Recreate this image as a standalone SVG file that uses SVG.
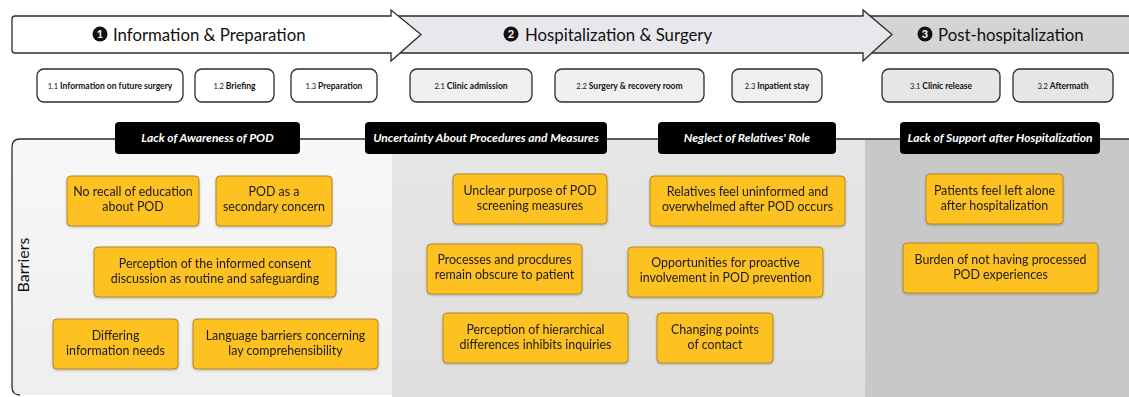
<svg xmlns="http://www.w3.org/2000/svg" width="1129" height="397" viewBox="0 0 1129 397">
<defs>
<linearGradient id="gL" x1="0" y1="0" x2="0" y2="1"><stop offset="0" stop-color="#f8f8f8"/><stop offset="1" stop-color="#eeeeee"/></linearGradient>
<linearGradient id="gM" x1="0" y1="0" x2="0" y2="1"><stop offset="0" stop-color="#e6e6e6"/><stop offset="1" stop-color="#dfdfdf"/></linearGradient>
<filter id="sh" x="-10%" y="-10%" width="120%" height="130%"><feDropShadow dx="0" dy="1" stdDeviation="0.8" flood-color="#000" flood-opacity="0.25"/></filter>
</defs>
<style>
.arrow{stroke:#2b2b2b;stroke-width:1.3}
.ttl{font-family:Lato,"Liberation Sans",sans-serif;font-size:16.8px;fill:#111}
.num{font-family:Lato,"Liberation Sans",sans-serif;font-size:11px;font-weight:bold;fill:#fff}
.sub{stroke:#2b2b2b;stroke-width:1.3}
.st{font-family:Lato,"Liberation Sans",sans-serif;font-size:8.5px;font-weight:bold;fill:#111}
.sn{font-weight:normal;font-size:7.5px}
.cat{fill:#000}
.ct{font-family:Lato,"Liberation Sans",sans-serif;font-size:12px;font-weight:bold;font-style:italic;fill:#fff}
.yb{fill:#fdc124;stroke:#b08a2a;stroke-width:1}
.yt{font-family:Lato,"Liberation Sans",sans-serif;font-size:12.4px;fill:#1a1a1a}
.bar{font-family:Lato,"Liberation Sans",sans-serif;font-size:16px;fill:#111}
</style>

<!-- panel backgrounds -->
<g id="panel">
<path d="M392 139 H865 V397 H392 Z" fill="url(#gM)"/>
<path d="M865 139 H1129 V397 H865 Z" fill="#c8c8c8"/>
<path d="M392 139 H20 Q12 139 12 147 V387 Q12 395 20 395 H392 Z" fill="url(#gL)"/>
<path d="M1129 139 H20 Q12 139 12 147 V387 Q12 395 20 395" fill="none" stroke="#2b2b2b" stroke-width="1.3"/>
<text class="bar" transform="translate(29 265) rotate(-90)" text-anchor="middle">Barriers</text>
</g>

<!-- phase arrows -->
<g id="phase3">
<path class="arrow" d="M865 16 H1135 V53 H865 Z" fill="#d4d4d4"/>
<circle cx="925" cy="34" r="7.5" fill="#111"/><text class="num" x="925" y="38" text-anchor="middle">3</text>
<text class="ttl" x="938" y="40.5">Post-hospitalization</text>
</g>
<g id="phase2">
<path class="arrow" d="M392 16 H863 V10 L892 34.5 L863 61 V53 H392 Z" fill="#e8e8ec"/>
<circle cx="511" cy="34" r="7.5" fill="#111"/><text class="num" x="511" y="38" text-anchor="middle">2</text>
<text class="ttl" x="525" y="40.5">Hospitalization &amp; Surgery</text>
</g>
<g id="phase1">
<path class="arrow" d="M15 16 H391 V10 L421 34.5 L391 61 V53 H15 Q12 53 12 50 V19 Q12 16 15 16 Z" fill="#ffffff"/>
<circle cx="100" cy="34" r="7.5" fill="#111"/><text class="num" x="100" y="38" text-anchor="middle">1</text>
<text class="ttl" x="113" y="40.5">Information &amp; Preparation</text>
</g>

<!-- substeps -->
<g id="s11"><rect class="sub" x="37" y="69" width="146" height="33" rx="7" fill="#fff"/><text class="st" x="110" y="89" text-anchor="middle"><tspan class="sn">1.1 </tspan>Information on future surgery</text></g>
<g id="s12"><rect class="sub" x="195" y="69" width="79" height="33" rx="7" fill="#fff"/><text class="st" x="234.5" y="89" text-anchor="middle"><tspan class="sn">1.2 </tspan>Briefing</text></g>
<g id="s13"><rect class="sub" x="291" y="69" width="86" height="33" rx="7" fill="#fff"/><text class="st" x="334" y="89" text-anchor="middle"><tspan class="sn">1.3 </tspan>Preparation</text></g>
<g id="s21"><rect class="sub" x="410" y="69" width="122" height="33" rx="7" fill="#f0f0f0"/><text class="st" x="471" y="89" text-anchor="middle"><tspan class="sn">2.1 </tspan>Clinic admission</text></g>
<g id="s22"><rect class="sub" x="555" y="69" width="149" height="33" rx="7" fill="#f0f0f0"/><text class="st" x="629.5" y="89" text-anchor="middle"><tspan class="sn">2.2 </tspan>Surgery &amp; recovery room</text></g>
<g id="s23"><rect class="sub" x="732" y="69" width="90" height="33" rx="7" fill="#f0f0f0"/><text class="st" x="777" y="89" text-anchor="middle"><tspan class="sn">2.3 </tspan>Inpatient stay</text></g>
<g id="s31"><rect class="sub" x="882" y="69" width="118" height="33" rx="7" fill="#e6e6e6"/><text class="st" x="941" y="89" text-anchor="middle"><tspan class="sn">3.1 </tspan>Clinic release</text></g>
<g id="s32"><rect class="sub" x="1013" y="69" width="100" height="33" rx="7" fill="#e6e6e6"/><text class="st" x="1063" y="89" text-anchor="middle"><tspan class="sn">3.2 </tspan>Aftermath</text></g>

<!-- categories -->
<g id="c1"><rect class="cat" x="115" y="122" width="185" height="32" rx="4"/><text class="ct" x="207.5" y="142" text-anchor="middle">Lack of Awareness of POD</text></g>
<g id="c2"><rect class="cat" x="365" y="122" width="242" height="32" rx="4"/><text class="ct" x="486" y="142" text-anchor="middle">Uncertainty About Procedures and Measures</text></g>
<g id="c3"><rect class="cat" x="658" y="122" width="178" height="32" rx="4"/><text class="ct" x="747" y="142" text-anchor="middle">Neglect of Relatives' Role</text></g>
<g id="c4"><rect class="cat" x="900" y="122" width="200" height="32" rx="4"/><text class="ct" x="1000" y="142" text-anchor="middle">Lack of Support after Hospitalization</text></g>

<!-- barriers -->
<g id="b1" filter="url(#sh)"><rect class="yb" x="67" y="176" width="132" height="50" rx="4"/><text class="yt" text-anchor="middle"><tspan x="133" y="196">No recall of education</tspan><tspan x="133" y="211">about POD</tspan></text></g>
<g id="b2" filter="url(#sh)"><rect class="yb" x="216" y="176" width="116" height="50" rx="4"/><text class="yt" text-anchor="middle"><tspan x="274" y="196">POD as a</tspan><tspan x="274" y="211">secondary concern</tspan></text></g>
<g id="b3" filter="url(#sh)"><rect class="yb" x="94" y="247" width="242" height="50" rx="4"/><text class="yt" text-anchor="middle"><tspan x="215" y="268">Perception of the informed consent</tspan><tspan x="215" y="283">discussion as routine and safeguarding</tspan></text></g>
<g id="b4" filter="url(#sh)"><rect class="yb" x="53" y="319" width="125" height="50" rx="4"/><text class="yt" text-anchor="middle"><tspan x="115.5" y="340">Differing</tspan><tspan x="115.5" y="355">information needs</tspan></text></g>
<g id="b5" filter="url(#sh)"><rect class="yb" x="193" y="319" width="185" height="50" rx="4"/><text class="yt" text-anchor="middle"><tspan x="285.5" y="340">Language barriers concerning</tspan><tspan x="285.5" y="355">lay comprehensibility</tspan></text></g>
<g id="b6" filter="url(#sh)"><rect class="yb" x="453" y="174" width="154" height="50" rx="4"/><text class="yt" text-anchor="middle"><tspan x="530" y="195">Unclear purpose of POD</tspan><tspan x="530" y="210">screening measures</tspan></text></g>
<g id="b7" filter="url(#sh)"><rect class="yb" x="650" y="176" width="195" height="50" rx="4"/><text class="yt" text-anchor="middle"><tspan x="747.5" y="196">Relatives feel uninformed and</tspan><tspan x="747.5" y="211">overwhelmed after POD occurs</tspan></text></g>
<g id="b8" filter="url(#sh)"><rect class="yb" x="427" y="244" width="155" height="50" rx="4"/><text class="yt" text-anchor="middle"><tspan x="504.5" y="264">Processes and procdures</tspan><tspan x="504.5" y="279">remain obscure to patient</tspan></text></g>
<g id="b9" filter="url(#sh)"><rect class="yb" x="628" y="247" width="195" height="50" rx="4"/><text class="yt" text-anchor="middle"><tspan x="725.5" y="267">Opportunities for proactive</tspan><tspan x="725.5" y="282">involvement in POD prevention</tspan></text></g>
<g id="b10" filter="url(#sh)"><rect class="yb" x="443" y="313" width="185" height="50" rx="4"/><text class="yt" text-anchor="middle"><tspan x="535.5" y="334">Perception of hierarchical</tspan><tspan x="535.5" y="349">differences inhibits inquiries</tspan></text></g>
<g id="b11" filter="url(#sh)"><rect class="yb" x="657" y="313" width="116" height="50" rx="4"/><text class="yt" text-anchor="middle"><tspan x="715" y="334">Changing points</tspan><tspan x="715" y="349">of contact</tspan></text></g>
<g id="b12" filter="url(#sh)"><rect class="yb" x="926" y="174" width="137" height="50" rx="4"/><text class="yt" text-anchor="middle"><tspan x="994.5" y="195">Patients feel left alone</tspan><tspan x="994.5" y="210">after hospitalization</tspan></text></g>
<g id="b13" filter="url(#sh)"><rect class="yb" x="903" y="243" width="195" height="50" rx="4"/><text class="yt" text-anchor="middle"><tspan x="1000.5" y="264">Burden of not having processed</tspan><tspan x="1000.5" y="279">POD experiences</tspan></text></g>

<g id="connectors"></g>
</svg>
